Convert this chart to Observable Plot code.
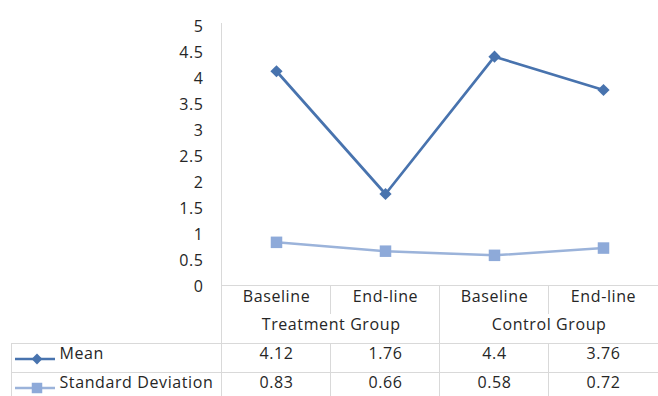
<!DOCTYPE html>
<html>
<head>
<meta charset="utf-8">
<script src="https://cdn.jsdelivr.net/npm/d3@7"></script>
<script src="https://cdn.jsdelivr.net/npm/@observablehq/plot@0.6"></script>
<style>
  html, body { margin: 0; padding: 0; background: #fff; }
</style>
</head>
<body>
<div id="chart"></div>
<script>
// Study results: mean score and standard deviation per group and phase
const groups = ["Treatment Group", "Control Group"];
const phases = ["Baseline", "End-line"];
const seriesNames = ["Mean", "Standard Deviation"];
const meanValues = [4.12, 1.76, 4.4, 3.76];
const sdValues = [0.83, 0.66, 0.58, 0.72];
const yTicks = [0, 0.5, 1, 1.5, 2, 2.5, 3, 3.5, 4, 4.5, 5];

const meanColor = "#4873ae";
const sdLine = "#9bb3da";
const sdMarker = "#8eaad9";
const gridColor = "#d9d9d9";
const textColor = "#262626";

// One column per group/phase pair
const columns = groups.flatMap(g => phases.map(p => ({group: g, phase: p, key: g + " / " + p})));
const keys = columns.map(c => c.key);
const meanRows = columns.map((c, i) => ({...c, series: seriesNames[0], value: meanValues[i]}));
const sdRows = columns.map((c, i) => ({...c, series: seriesNames[1], value: sdValues[i]}));

const W = 658, H = 396;
const mLeft = 221, mRight = 0, mTop = 25, mBottom = 111;
const colStep = (W - mLeft - mRight) / keys.length;

// Row offsets of the data table below the plot frame
const catRowDy = 16, groupRowDy = 44, meanRowDy = 73.5, sdRowDy = 102.5;
const rowLine1 = 58, rowLine2 = 87, catRowEnd = 29;
const legendLeft = 11;

function tableGrid(index, scales, values, dims) {
  const {x} = scales;
  const {width, height, marginLeft, marginBottom, marginTop} = dims;
  const base = height - marginBottom;
  const g = d3.create("svg:g")
    .attr("stroke", gridColor)
    .attr("stroke-width", 1)
    .attr("fill", "none");
  const seg = (x1, y1, x2, y2) => g.append("line")
    .attr("x1", x1).attr("y1", y1).attr("x2", x2).attr("y2", y2);
  // frame baseline and value axis line
  seg(marginLeft, base + 0.5, width, base + 0.5);
  seg(marginLeft + 0.5, marginTop - 2, marginLeft + 0.5, height);
  // row separators and left border of the series rows
  seg(legendLeft, base + rowLine1 + 0.5, width, base + rowLine1 + 0.5);
  seg(legendLeft, base + rowLine2 + 0.5, width, base + rowLine2 + 0.5);
  seg(legendLeft + 0.5, base + rowLine1, legendLeft + 0.5, height);
  // column separators
  columns.forEach((c, i) => {
    if (i === 0) return;
    const xe = Math.round(x(c.key) - colStep / 2) + 0.5;
    if (c.group !== columns[i - 1].group) {
      seg(xe, base, xe, height);
    } else {
      seg(xe, base, xe, base + catRowEnd);
      seg(xe, base + rowLine1, xe, height);
    }
  });
  // series keys in the table rows
  const keyDefs = [
    {dy: meanRowDy, line: meanColor, fill: meanColor, sym: d3.symbolDiamond2, size: 75},
    {dy: sdRowDy, line: sdLine, fill: sdMarker, sym: d3.symbolSquare, size: 110}
  ];
  keyDefs.forEach(k => {
    const y = Math.round(base + k.dy);
    g.append("line").attr("x1", 15).attr("x2", 55).attr("y1", y).attr("y2", y)
      .attr("stroke", k.line).attr("stroke-width", 2.5);
    g.append("path").attr("d", d3.symbol(k.sym, k.size)())
      .attr("transform", `translate(37,${y})`)
      .attr("fill", k.fill).attr("stroke", "none");
  });
  return g.node();
}

const chart = Plot.plot({
  width: W,
  height: H,
  marginLeft: mLeft,
  marginRight: mRight,
  marginTop: mTop,
  marginBottom: mBottom,
  style: {
    fontFamily: "'Open Sans', sans-serif",
    fontSize: "16px",
    letterSpacing: "0.6px",
    color: textColor,
    background: "#fff"
  },
  x: {type: "point", domain: keys, padding: 0.5, axis: null},
  y: {domain: [0, 5], axis: null},
  marks: [
    tableGrid,
    Plot.axisY({ticks: yTicks, tickSize: 0, tickPadding: 18, tickFormat: d => String(d), label: null, fontSize: 16, dy: 1.5}),
    // series lines and markers
    Plot.line(sdRows, {x: "key", y: "value", stroke: sdLine, strokeWidth: 2.5}),
    Plot.dot(sdRows, {x: "key", y: "value", symbol: "square", r: 6.5, fill: sdMarker}),
    Plot.line(meanRows, {x: "key", y: "value", stroke: meanColor, strokeWidth: 2.7}),
    Plot.dot(meanRows, {x: "key", y: "value", symbol: "diamond2", r: 5.5, fill: meanColor}),
    // table: phase row, group row, and value rows
    Plot.text(columns, {x: "key", text: "phase", frameAnchor: "bottom", dy: catRowDy, fontSize: 16}),
    Plot.text(columns.filter(c => c.phase === phases[0]), {x: "key", text: "group", frameAnchor: "bottom", dx: colStep / 2, dy: groupRowDy, fontSize: 16}),
    Plot.text(meanRows, {x: "key", text: d => String(d.value), frameAnchor: "bottom", dy: meanRowDy, fontSize: 16}),
    Plot.text(sdRows, {x: "key", text: d => String(d.value), frameAnchor: "bottom", dy: sdRowDy, fontSize: 16}),
    Plot.text([seriesNames[0]], {frameAnchor: "bottom-left", text: d => d, textAnchor: "start", dx: 59 - mLeft, dy: meanRowDy, fontSize: 16}),
    Plot.text([seriesNames[1]], {frameAnchor: "bottom-left", text: d => d, textAnchor: "start", dx: 59 - mLeft, dy: sdRowDy, fontSize: 16})
  ]
});

document.getElementById("chart").append(chart);
</script>
</body>
</html>
